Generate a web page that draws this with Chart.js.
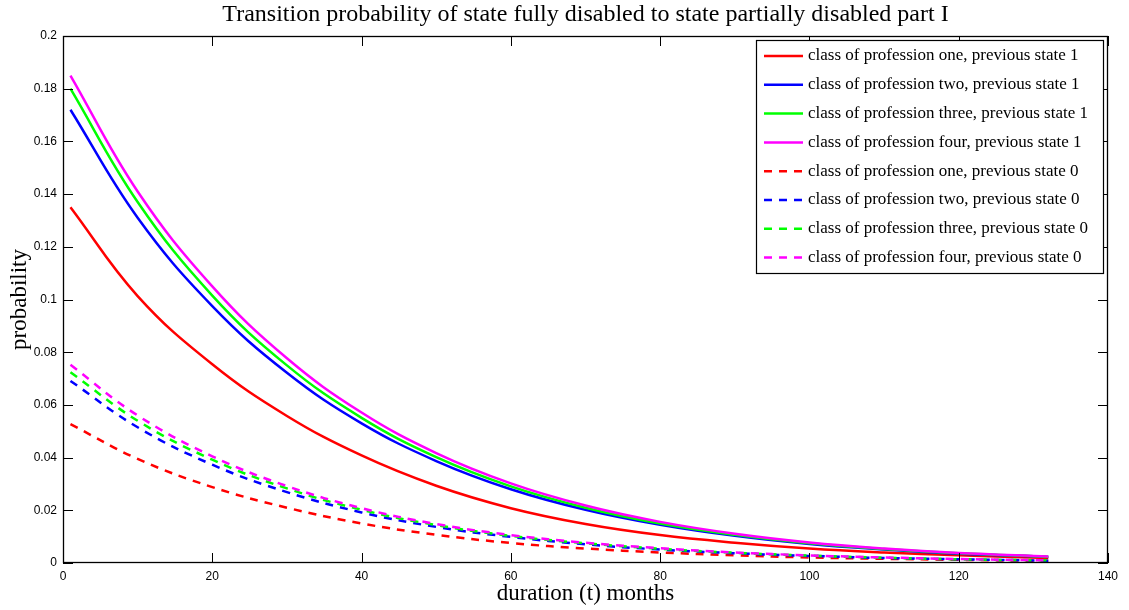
<!DOCTYPE html>
<html>
<head>
<meta charset="utf-8">
<script src="https://cdn.jsdelivr.net/npm/chart.js@4.4.1/dist/chart.umd.min.js"></script>
<style>
  html, body { margin: 0; padding: 0; background: #fff; }
  #wrap { width: 1129px; height: 610px; position: relative; }
</style>
</head>
<body>
<div id="wrap"><canvas id="chart"></canvas></div>
<script>
const months = [1, 10, 20, 30, 40, 50, 60, 70, 80, 90, 100, 110, 120, 132];

// previous state 1 (solid)
const oneState1 = [0.135, 0.1013, 0.0754, 0.0558, 0.0408, 0.0293, 0.0208, 0.0148, 0.0106, 0.0077, 0.0055, 0.0040, 0.0029, 0.0019];
const twoState1 = [0.172, 0.131, 0.0975, 0.0722, 0.0530, 0.0387, 0.0280, 0.0202, 0.0145, 0.0103, 0.0072, 0.0051, 0.0035, 0.0023];
const threeState1 = [0.180, 0.137, 0.1015, 0.0750, 0.0551, 0.0402, 0.0291, 0.0210, 0.0150, 0.0107, 0.0075, 0.0053, 0.0037, 0.0024];
const fourState1 = [0.185, 0.141, 0.105, 0.0777, 0.0571, 0.0417, 0.0302, 0.0218, 0.0156, 0.0111, 0.0078, 0.0055, 0.0038, 0.0025];

// previous state 0 (dashed)
const oneState0 = [0.0527, 0.0395, 0.0288, 0.0210, 0.0150, 0.0107, 0.0076, 0.0055, 0.0040, 0.0029, 0.0021, 0.0016, 0.0012, 0.0008];
const twoState0 = [0.0691, 0.0515, 0.0373, 0.0269, 0.0192, 0.0137, 0.0099, 0.0071, 0.0051, 0.0037, 0.0027, 0.0019, 0.0014, 0.0009];
const threeState0 = [0.0724, 0.0540, 0.0392, 0.0283, 0.0202, 0.0144, 0.0103, 0.0075, 0.0054, 0.0039, 0.0028, 0.0020, 0.0014, 0.0010];
const fourState0 = [0.0752, 0.0560, 0.0405, 0.0292, 0.0208, 0.0148, 0.0106, 0.0077, 0.0056, 0.0040, 0.0029, 0.0021, 0.0015, 0.0010];

const seriesLabels = [
    'class of profession one, previous state 1',
    'class of profession two, previous state 1',
    'class of profession three, previous state 1',
    'class of profession four, previous state 1',
    'class of profession one, previous state 0',
    'class of profession two, previous state 0',
    'class of profession three, previous state 0',
    'class of profession four, previous state 0'
];
const seriesValues = [oneState1, twoState1, threeState1, fourState1, oneState0, twoState0, threeState0, fourState0];
const colors = ['#ff0000', '#0000ff', '#00ff00', '#ff00ff'];

const xTickLabels = ['0', '20', '40', '60', '80', '100', '120', '140'];
const yTickLabels = ['0', '0.02', '0.04', '0.06', '0.08', '0.1', '0.12', '0.14', '0.16', '0.18', '0.2'];

const serif = "'Liberation Serif', 'DejaVu Serif', serif";
const sans = "'Liberation Sans', Arial, sans-serif";

const datasets = seriesValues.map((vals, i) => ({
    label: seriesLabels[i],
    data: vals.map((v, j) => ({ x: months[j], y: v })),
    borderColor: colors[i % 4],
    borderWidth: 2.5,
    borderDash: i >= 4 ? [8, 7] : [],
    pointRadius: 0,
    fill: false,
    tension: 0.4,
    order: seriesValues.length - i
}));

// box, inward ticks on all four sides, and the legend inside the axes
const axesBox = {
    id: 'axesBox',
    afterDraw(chart) {
        const { ctx, chartArea: a, scales: { x, y } } = chart;
        ctx.save();
        ctx.strokeStyle = '#000';
        ctx.lineWidth = 1;
        ctx.beginPath();
        x.ticks.forEach(t => {
            const px = Math.round(x.getPixelForValue(t.value)) + 0.5;
            ctx.moveTo(px, a.bottom); ctx.lineTo(px, a.bottom - 10);
            ctx.moveTo(px, a.top); ctx.lineTo(px, a.top + 10);
        });
        y.ticks.forEach(t => {
            const py = Math.round(y.getPixelForValue(t.value)) + 0.5;
            ctx.moveTo(a.left, py); ctx.lineTo(a.left + 10, py);
            ctx.moveTo(a.right, py); ctx.lineTo(a.right - 10, py);
        });
        ctx.stroke();
        ctx.lineWidth = 1.3;
        ctx.strokeRect(Math.round(a.left) + 0.5, Math.round(a.top) + 0.5,
            Math.round(a.width) - 1, Math.round(a.height) - 1);

        // legend
        const lx = 756, ly = 40, lw = 347, lh = 233;
        ctx.fillStyle = '#fff';
        ctx.fillRect(lx, ly, lw, lh);
        ctx.lineWidth = 1.2;
        ctx.strokeRect(lx + 0.5, ly + 0.5, lw, lh);
        ctx.font = '17px ' + serif;
        ctx.textBaseline = 'middle';
        chart.data.datasets.forEach((ds, i) => {
            const cy = ly + 16 + i * 28.8;
            ctx.strokeStyle = ds.borderColor;
            ctx.lineWidth = 2.5;
            ctx.setLineDash(ds.borderDash);
            ctx.beginPath();
            ctx.moveTo(764, cy); ctx.lineTo(803, cy);
            ctx.stroke();
            ctx.setLineDash([]);
            ctx.fillStyle = '#000';
            ctx.fillText(ds.label, 808, cy);
        });
        ctx.restore();
    }
};

function noPad(s) {
    s.paddingLeft = 0; s.paddingRight = 0; s.paddingTop = 0; s.paddingBottom = 0;
}

new Chart(document.getElementById('chart'), {
    type: 'line',
    data: { datasets: datasets },
    options: {
        responsive: true,
        maintainAspectRatio: false,
        animation: false,
        devicePixelRatio: 1,
        layout: { padding: { left: 0, right: 21, top: 0, bottom: 0 } },
        plugins: {
            legend: { display: false },
            tooltip: { enabled: false },
            title: {
                display: true,
                text: 'Transition probability of state fully disabled to state partially disabled part I',
                fullSize: false,
                color: '#000',
                font: { family: serif, size: 24, weight: 'normal' },
                padding: { top: 0.6, bottom: 6.6 }
            }
        },
        scales: {
            x: {
                type: 'linear',
                min: 0,
                max: 140,
                grid: { display: false, drawTicks: false },
                border: { display: false },
                ticks: {
                    stepSize: 20,
                    maxRotation: 0,
                    padding: 6,
                    color: '#000',
                    font: { family: sans, size: 12 },
                    callback: (v, i) => xTickLabels[i]
                },
                title: {
                    display: true,
                    text: 'duration (t) months',
                    color: '#000',
                    font: { family: serif, size: 23 },
                    padding: { top: 0, bottom: 2 }
                },
                afterFit(s) { s.height = 47; noPad(s); }
            },
            y: {
                type: 'linear',
                min: 0,
                max: 0.2,
                grid: { display: false, drawTicks: false },
                border: { display: false },
                ticks: {
                    stepSize: 0.02,
                    padding: 6,
                    color: '#000',
                    font: { family: sans, size: 12 },
                    callback: (v, i) => yTickLabels[i]
                },
                title: {
                    display: true,
                    text: 'probability',
                    color: '#000',
                    font: { family: serif, size: 23 },
                    padding: { top: 6, bottom: 0 }
                },
                afterFit(s) { s.width = 63; noPad(s); }
            }
        }
    },
    plugins: [axesBox]
});
</script>
</body>
</html>
